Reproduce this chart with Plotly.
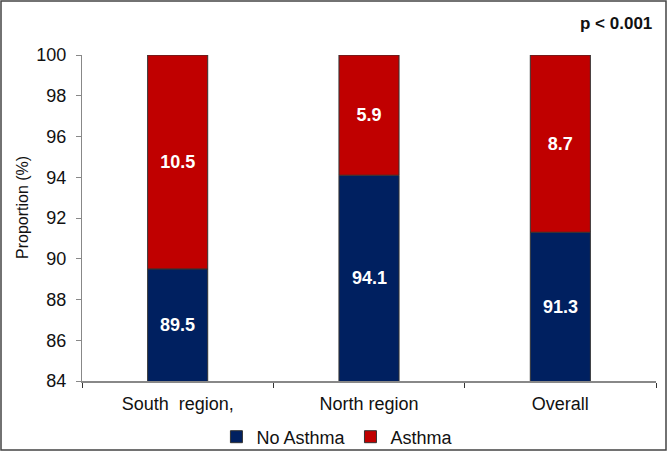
import plotly.graph_objects as go

categories = ["South  region,", "North region", "Overall"]
no_asthma = [89.5, 94.1, 91.3]
asthma = [10.5, 5.9, 8.7]
y_ticks = [84, 86, 88, 90, 92, 94, 96, 98, 100]
y_min, y_max = 84, 100

FONT = "Liberation Sans, Arial, sans-serif"
W, H = 667, 451
ML, MR, MT, MB = 82, 11, 55, 70
PW, PH = W - ML - MR, H - MT - MB

fig = go.Figure()
fig.add_trace(go.Bar(
    name="No Asthma", x=categories, y=no_asthma, base=0,
    marker=dict(color="#002060", line=dict(color="#333333", width=1)),
))
fig.add_trace(go.Bar(
    name="Asthma", x=categories, y=asthma, base=no_asthma,
    marker=dict(color="#C00000", line=dict(color="#333333", width=1)),
    text=[f"{v:.1f}" for v in asthma], textposition="inside",
    insidetextanchor="middle",
    textfont=dict(color="white", size=18, family=FONT, weight="bold"),
))

# labels for the No Asthma segments, centred in the visible part of each bar
for c, v in zip(categories, no_asthma):
    fig.add_annotation(
        x=c, y=(y_min + v) / 2, text=f"<b>{v:.1f}</b>", showarrow=False,
        font=dict(color="white", size=18, family=FONT),
    )

fig.update_layout(
    width=W, height=H,
    barmode="overlay",
    bargap=0.686,
    plot_bgcolor="white", paper_bgcolor="white",
    margin=dict(l=ML, r=MR, t=MT, b=MB, autoexpand=False),
    font=dict(family=FONT, size=18, color="#111"),
    showlegend=True,
    legend=dict(orientation="h", x=0.445, xanchor="center",
                y=-56 / PH, yanchor="middle", bgcolor="rgba(0,0,0,0)",
                font=dict(size=18), traceorder="normal", itemwidth=30),
)
fig.update_yaxes(
    range=[y_min, y_max], tickvals=y_ticks, showgrid=False, zeroline=False,
    showline=True, linecolor="#888", linewidth=1,
    ticks="outside", ticklen=5, tickcolor="#888",
    ticklabelstandoff=6,
    tickfont=dict(size=18),
)
fig.update_xaxes(
    showline=True, linecolor="#888", linewidth=1.5,
    ticks="outside", tickson="boundaries", ticklen=5, tickcolor="#333",
    ticklabelstandoff=6,
    tickfont=dict(size=18),
)
# y-axis title
fig.add_annotation(
    text="Proportion (%)", xref="paper", yref="paper", textangle=-90,
    x=(23 - ML) / PW, y=1 - (208 - MT) / PH, xanchor="center", yanchor="middle",
    showarrow=False, font=dict(size=16, family=FONT, color="#111"),
)
fig.add_annotation(
    text="<b>p < 0.001</b>", xref="paper", yref="paper",
    x=(654 - ML) / PW, y=1 + (MT - 24) / PH, xanchor="right", yanchor="middle",
    showarrow=False, font=dict(size=17, family=FONT, color="#111"),
)
fig.add_shape(
    type="rect", xref="paper", yref="paper",
    x0=(-ML + 1) / PW, x1=1 + (MR - 1) / PW, y0=(-MB + 1) / PH, y1=1 + (MT - 1) / PH,
    line=dict(color="#444", width=1.5), layer="above",
)
fig.write_html("out.html")
